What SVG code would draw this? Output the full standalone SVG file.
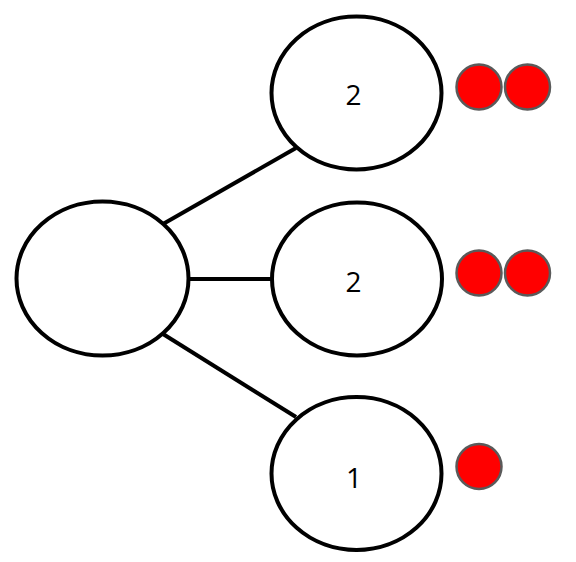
<svg xmlns="http://www.w3.org/2000/svg" width="576" height="562" viewBox="0 0 576 562">
<style>
.node{fill:#fff;stroke:#000;stroke-width:4}
.edge{stroke:#000;stroke-width:4;fill:none}
.dot{fill:#ff0000;stroke:#5a5a5a;stroke-width:2.5}
.lbl{font-family:"Open Sans","Noto Sans","DejaVu Sans",sans-serif;font-size:28px;fill:#000;text-anchor:middle}
</style>
<rect width="576" height="562" fill="#fff"/>
<g id="connectors">
<line class="edge" x1="163" y1="224" x2="296" y2="148"/>
<line class="edge" x1="188" y1="279" x2="271" y2="279"/>
<line class="edge" x1="163" y1="334" x2="296" y2="417"/>
</g>
<g id="root"><ellipse class="node" cx="102.5" cy="278.5" rx="86" ry="77"/></g>
<g id="n1"><ellipse class="node" cx="356.5" cy="93" rx="85" ry="76.5"/><text class="lbl" x="353.5" y="105">2</text></g>
<g id="n2"><ellipse class="node" cx="357" cy="279" rx="85" ry="76.5"/><text class="lbl" x="353.5" y="292">2</text></g>
<g id="n3"><ellipse class="node" cx="356.5" cy="473.5" rx="85" ry="76.5"/><text class="lbl" x="354" y="488">1</text></g>
<g id="dots">
<circle class="dot" cx="479" cy="87" r="22.5"/>
<circle class="dot" cx="527.5" cy="87" r="22.5"/>
<circle class="dot" cx="479" cy="273" r="22.5"/>
<circle class="dot" cx="527.5" cy="273" r="22.5"/>
<circle class="dot" cx="479" cy="466.5" r="22.5"/>
</g>
</svg>
